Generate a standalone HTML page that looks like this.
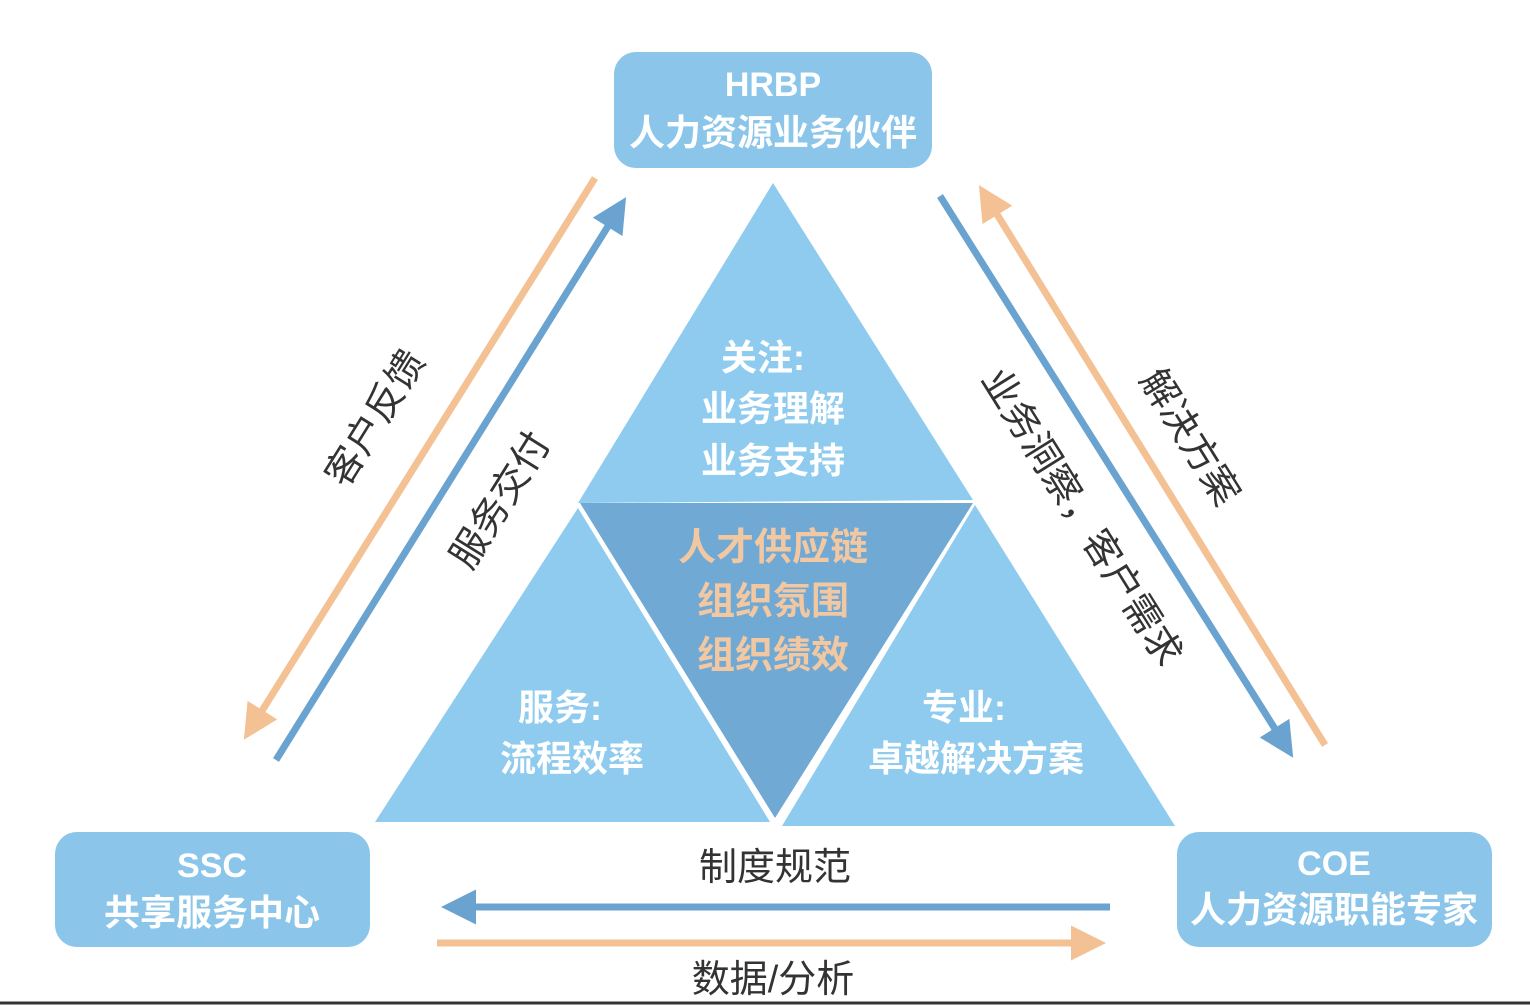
<!DOCTYPE html>
<html><head><meta charset="utf-8"><style>
html,body{margin:0;padding:0;background:#fff;}
svg{display:block;}
text{font-family:"Liberation Sans","Noto Sans CJK SC",sans-serif;}
</style></head><body>
<svg width="1530" height="1006" viewBox="0 0 1530 1006" xmlns="http://www.w3.org/2000/svg">
<defs>
<marker id="ab" markerWidth="5" markerHeight="5" refX="2" refY="2.5" orient="auto" markerUnits="strokeWidth"><path d="M0,0 L5,2.5 L0,5 z" fill="#6aa3cf"/></marker>
<marker id="ao" markerWidth="5" markerHeight="5" refX="2" refY="2.5" orient="auto" markerUnits="strokeWidth"><path d="M0,0 L5,2.5 L0,5 z" fill="#f3c193"/></marker>
</defs>
<rect width="1530" height="1006" fill="#fff"/>
<polygon points="773,183 973,500 578,503" fill="#8ecbee"/>
<polygon points="578,508 375,822 770,822" fill="#8ecbee"/>
<polygon points="975,505 1175,826 782,826" fill="#8ecbee"/>
<polygon points="580,503 973,503 775,818" fill="#71a9d5"/>
<rect x="614" y="52" width="318" height="116" rx="22" fill="#8bc6ea"/>
<rect x="55" y="832" width="315" height="115" rx="22" fill="#8bc6ea"/>
<rect x="1177" y="832" width="315" height="115" rx="22" fill="#8bc6ea"/>
<g fill="#fff" font-size="36" text-anchor="middle" font-weight="bold">
<text x="773" y="96" font-size="34">HRBP</text>
<text x="773" y="145">人力资源业务伙伴</text>
<text x="212" y="877" font-size="34">SSC</text>
<text x="212" y="925">共享服务中心</text>
<text x="1334" y="875" font-size="34">COE</text>
<text x="1334" y="922">人力资源职能专家</text>
<text x="763" y="370">关注:</text>
<text x="773" y="421">业务理解</text>
<text x="773" y="473">业务支持</text>
<text x="560" y="720">服务:</text>
<text x="572" y="771">流程效率</text>
<text x="964" y="720">专业:</text>
<text x="976" y="771">卓越解决方案</text>
</g>
<g fill="#f2c8a2" font-size="38" text-anchor="middle" font-weight="bold">
<text x="773" y="560">人才供应链</text>
<text x="773" y="614">组织氛围</text>
<text x="773" y="668">组织绩效</text>
</g>
<g stroke-width="7" fill="none">
<line x1="595" y1="178" x2="255" y2="722" stroke="#f3c193" marker-end="url(#ao)"/>
<line x1="276" y1="760" x2="615" y2="215" stroke="#6aa3cf" marker-end="url(#ab)"/>
<line x1="940" y1="196" x2="1282" y2="740" stroke="#6aa3cf" marker-end="url(#ab)"/>
<line x1="1325" y1="745" x2="990" y2="203" stroke="#f3c193" marker-end="url(#ao)"/>
<line x1="1110" y1="907" x2="462" y2="907" stroke="#6aa3cf" marker-end="url(#ab)"/>
<line x1="437" y1="943" x2="1085" y2="943" stroke="#f3c193" marker-end="url(#ao)"/>
</g>
<g fill="#333" font-size="38" text-anchor="middle">
<text x="775" y="880">制度规范</text>
<text x="773" y="992">数据/分析</text>
<text transform="translate(375,418) rotate(-58)" y="13">客户反馈</text>
<text transform="translate(500,500) rotate(-58)" y="13">服务交付</text>
<text transform="translate(1082,517) rotate(58)" y="13">业务洞察，客户需求</text>
<text transform="translate(1190,437) rotate(58)" y="13">解决方案</text>
</g>
<line x1="0" y1="1003" x2="1530" y2="1003" stroke="#333" stroke-width="3"/>
</svg>
</body></html>
